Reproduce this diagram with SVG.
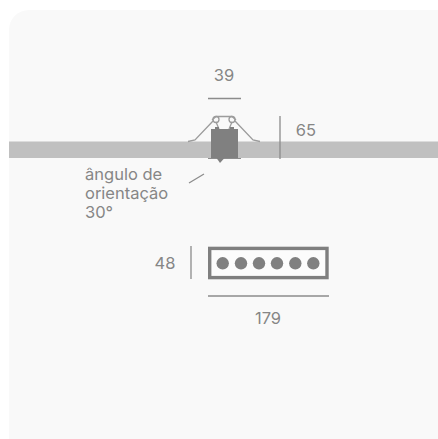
<svg xmlns="http://www.w3.org/2000/svg" width="438" height="439" viewBox="0 0 438 439">
<style>
text{font-family:Inter,"Liberation Sans",sans-serif;font-size:16.5px;fill:#868686}
.d{stroke:#8c8c8c;stroke-width:1.3;fill:none}
.c{stroke:#9c9c9c;stroke-width:1.3;fill:none}
.m{fill:#808080}
</style>
<rect x="9" y="10" width="449" height="449" rx="20" fill="#f9f9f9"/>
<g id="ceiling"><rect x="9" y="141.500" width="429" height="16.500" fill="#c0c0c0"/></g>
<g id="fixture-section">
<path class="c" d="M188 141.500 L195 140 L213 121 M212 120 L216 116.500 L232 116.500 L236 120 M260 141.500 L253 140 L235 121 M216 122 L219 129 M232 122 L229 129"/>
<circle class="c" cx="216" cy="119.500" r="3"/>
<circle class="c" cx="232" cy="119.500" r="3"/>
<rect class="m" x="211" y="129" width="27" height="29"/>
<path class="m" d="M215 127h4v3h-4zM230 127h4v3h-4z"/>
<path d="M208 158.500H241" stroke="#8c8c8c" stroke-width="1"/>
<path class="m" d="M216.500 158H224.500L220 163Z"/>
</g>
<g id="fixture-front">
<rect x="209.700" y="248.400" width="117.300" height="29.200" fill="#fcfcfc" stroke="#7f7f7f" stroke-width="3.400"/>
<g class="m"><circle cx="222.700" cy="263.300" r="6.200"/><circle cx="241" cy="263.300" r="6.200"/><circle cx="259" cy="263.300" r="6.200"/><circle cx="277" cy="263.300" r="6.200"/><circle cx="295.300" cy="263.300" r="6.200"/><circle cx="313.300" cy="263.300" r="6.200"/></g>
</g>
<g id="connectors">
<path class="d" d="M208 98.500H241M280 116V159M189 183L204 174M191 246V279M208 296H329"/>
</g>
<g id="labels">
<text x="224" y="81" text-anchor="middle">39</text>
<text x="306" y="136" text-anchor="middle">65</text>
<text x="85" y="180">ângulo de</text>
<text x="85" y="199">orientação</text>
<text x="85" y="218">30°</text>
<text x="165" y="269" text-anchor="middle">48</text>
<text x="268" y="324" text-anchor="middle">179</text>
</g>
</svg>
